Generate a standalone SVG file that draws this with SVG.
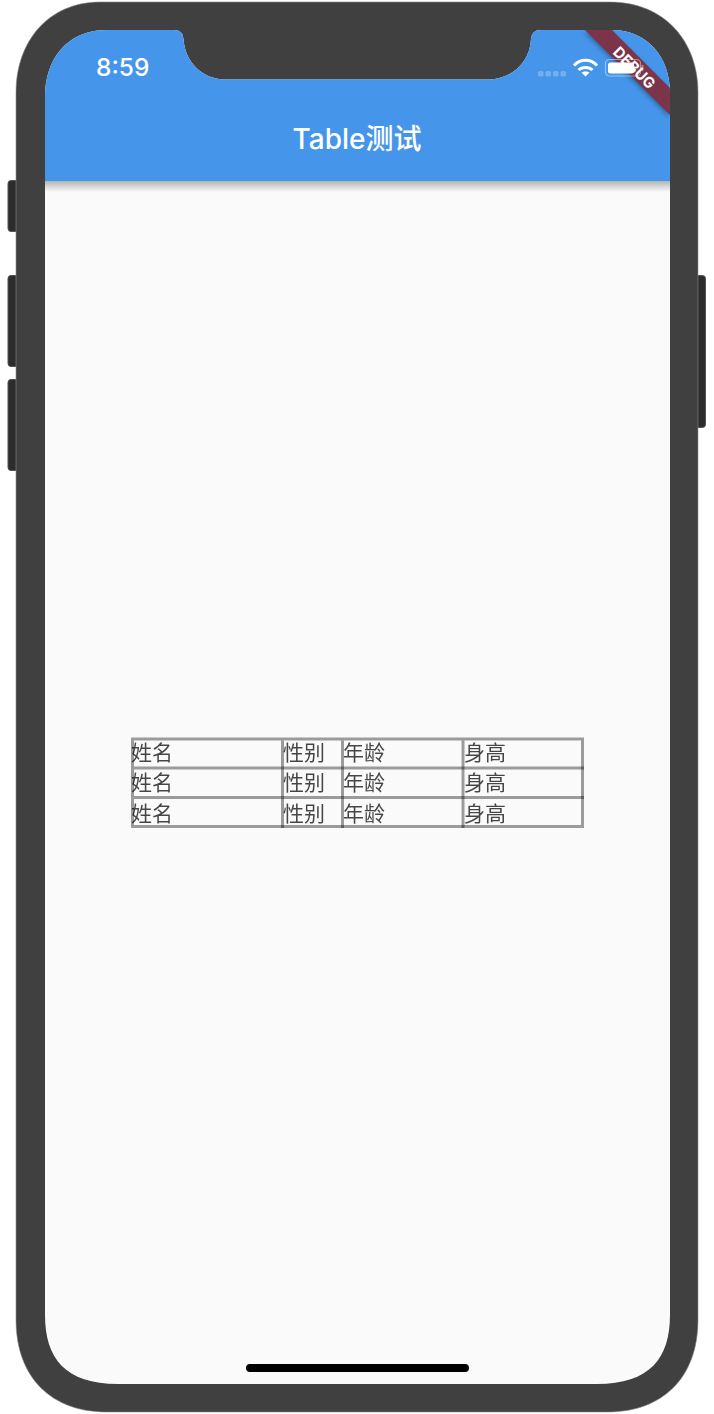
<svg xmlns="http://www.w3.org/2000/svg" width="714" height="1414" viewBox="0 0 714 1414">
<style>
text{font-family:Inter,"Noto Sans CJK SC","Noto Sans",sans-serif}
.btn{fill:#2c2c2c;stroke:#555;stroke-width:1}
.c{font-size:21px;fill:#000;opacity:.72}
.c text{font-family:"Noto Sans CJK SC","Noto Sans",sans-serif}
.g line,.g rect{stroke:#000;stroke-width:3;opacity:.38;fill:none}
.d{fill:#fff;opacity:.25}
</style>
<defs>
<linearGradient id="sh" x1="0" y1="0" x2="0" y2="1"><stop offset="0" stop-color="#000" stop-opacity=".28"/><stop offset="1" stop-color="#000" stop-opacity="0"/></linearGradient>
<clipPath id="screen"><path d="M107 30H174Q183 30 183.500 39C185 62 202 79 225 79.500H489C512 79 530 62 531 39Q531.500 30 541 30H612C648 30 670 58 670 92V1315C670 1358 650 1384 597 1384H118C65 1384 45 1358 45 1315V97C45 60 66 30 107 30Z"/></clipPath>
<filter id="bl" x="-20%" y="-20%" width="140%" height="140%"><feGaussianBlur stdDeviation="2"/></filter>
</defs>
<rect width="714" height="1414" fill="#fff"/>
<g id="device">
<rect class="btn" x="8" y="180.500" width="12" height="51" rx="3"/>
<rect class="btn" x="8" y="275.500" width="12" height="91" rx="3"/>
<rect class="btn" x="8" y="379.500" width="12" height="91" rx="3"/>
<rect class="btn" x="694" y="275.500" width="11.500" height="152" rx="3"/>
<path d="M100 2H610C665 2 698 42 698 92V1320C698 1378 662 1412 608 1412H106C52 1412 16 1378 16 1320V92C16 42 48 2 100 2Z" fill="#404040" stroke="#8a8a8a" stroke-width=".6"/>
</g>
<g id="screen-area" clip-path="url(#screen)">
<rect x="45" y="30" width="625" height="1354" fill="#fafafa"/>
<rect x="45" y="181" width="625" height="11" fill="url(#sh)"/>
<rect id="appbar" x="45" y="30" width="625" height="151" fill="#4595ea"/>
<g id="debug-banner">
<polygon points="585,30 612,30 670,88 670,115" fill="#000" opacity=".3" filter="url(#bl)" transform="translate(-1,2)"/>
<polygon points="585,30 612,30 670,88 670,115" fill="#7b344a"/>
</g>
</g>
<g id="status-bar">
<text x="96" y="76" font-size="24.500" font-weight="500" fill="#fff">8:59</text>
<g id="signal"><rect class="d" x="538" y="71" width="5.500" height="5.500" rx="1.500"/><rect class="d" x="545.500" y="71" width="5.500" height="5.500" rx="1.500"/><rect class="d" x="553" y="71" width="5.500" height="5.500" rx="1.500"/><rect class="d" x="560.500" y="71" width="5.500" height="5.500" rx="1.500"/></g>
<g id="wifi" fill="none" stroke="#fff" stroke-width="3"><path d="M574 65.500C580 58.500 591 58.500 597 65.500"/><path d="M578.500 70C582 66.500 589 66.500 592.500 70"/><path d="M585.500 76.500L581.500 72.500C583.500 71 587.500 71 589.500 72.500Z" fill="#fff" stroke="none"/></g>
<g id="battery"><rect x="605.500" y="59.500" width="35" height="16.500" rx="4" fill="none" stroke="#fff" stroke-opacity=".45" stroke-width="1.200"/><rect x="608" y="62.500" width="26" height="11" rx="2.500" fill="#fff"/><rect x="641.500" y="65" width="2" height="6" rx="1" fill="#fff" opacity=".45"/></g>
</g>
<g id="debug-label"><text transform="translate(630.500 71.500) rotate(45)" text-anchor="middle" font-size="15" font-weight="700" fill="#fff">DEBUG</text></g>
<g id="title"><text x="357" y="149" text-anchor="middle" font-size="28" font-weight="500" fill="#fff">Table测试</text></g>
<g id="table">
<g class="g">
<rect x="132.500" y="739" width="450" height="87.500"/>
<line x1="134" y1="768" x2="584" y2="768"/><line x1="134" y1="797.500" x2="584" y2="797.500"/>
<line x1="282.500" y1="740.500" x2="282.500" y2="828"/><line x1="342.500" y1="740.500" x2="342.500" y2="828"/><line x1="463" y1="740.500" x2="463" y2="828"/>
</g>
<g class="c">
<text x="131" y="760">姓名</text><text x="283" y="760">性别</text><text x="343" y="760">年龄</text><text x="464" y="760">身高</text>
<text x="131" y="790">姓名</text><text x="283" y="790">性别</text><text x="343" y="790">年龄</text><text x="464" y="790">身高</text>
<text x="131" y="820.500">姓名</text><text x="283" y="820.500">性别</text><text x="343" y="820.500">年龄</text><text x="464" y="820.500">身高</text>
</g>
</g>
<g id="home-indicator"><rect x="246" y="1364" width="223" height="8" rx="4" fill="#000"/></g>
</svg>
